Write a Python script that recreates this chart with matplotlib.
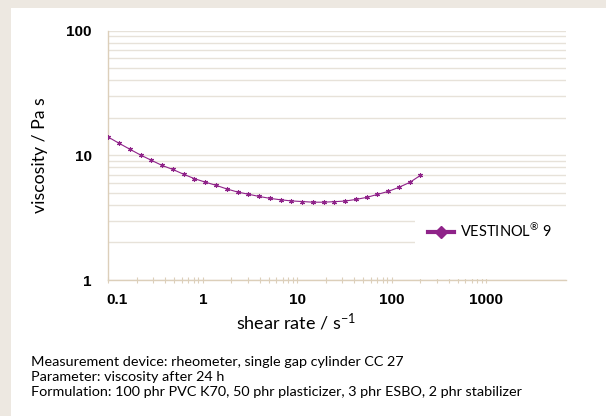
import matplotlib
matplotlib.use('Agg')
import matplotlib.pyplot as plt
from matplotlib.lines import Line2D
from matplotlib.patches import Rectangle
from matplotlib.transforms import offset_copy
from matplotlib.ticker import FixedLocator, NullFormatter, FixedFormatter

# shear rate (1/s) and viscosity (Pa s)
shear_rate = [0.1, 0.13, 0.169, 0.22, 0.286, 0.371, 0.483, 0.628, 0.816, 1.06,
              1.38, 1.79, 2.33, 3.03, 3.94, 5.12, 6.65, 8.65, 11.2, 14.6,
              19.0, 24.7, 32.1, 41.7, 54.2, 70.5, 91.7, 119.0, 155.0, 201.0]
viscosity = [14.0, 12.5, 11.2, 10.05, 9.12, 8.3, 7.7, 7.05, 6.5, 6.1,
             5.75, 5.38, 5.08, 4.88, 4.68, 4.52, 4.40, 4.31, 4.26, 4.21,
             4.21, 4.25, 4.30, 4.43, 4.60, 4.86, 5.14, 5.54, 6.07, 6.91]
series_name = 'VESTINOL$^{\u00ae}$ 9'

x_ticks = [0.1, 1, 10, 100, 1000]
x_tick_labels = ['0.1', '1', '10', '100', '1000']
y_ticks = [1, 10, 100]
y_tick_labels = ['1', '10', '100']

notes = ['Measurement device: rheometer, single gap cylinder CC 27',
         'Parameter: viscosity after 24 h',
         'Formulation: 100 phr PVC K70, 50 phr plasticizer, 3 phr ESBO, 2 phr stabilizer']

PURPLE = '#8f2389'
TAN    = '#dccfba'
GRID   = '#e7e2d9'
BG     = '#ede8e1'

plt.rcParams['mathtext.fontset'] = 'custom'
plt.rcParams['mathtext.rm'] = 'Lato'
plt.rcParams['mathtext.it'] = 'Lato'

fig = plt.figure(figsize=(6.06, 4.16), dpi=100, facecolor=BG)
# white panel
fig.patches.append(Rectangle((11/606, 0), 1, 1 - 8/416, transform=fig.transFigure,
                             facecolor='white', edgecolor='none', zorder=-10))

ax = fig.add_axes([108.3/606, 1 - 280/416, 457.4/606, 249.3/416])
ax.set_facecolor('none')
ax.set_xscale('log')
ax.set_yscale('log')
ax.set_xlim(0.1, 10**3.84)
ax.set_ylim(1, 100)

# horizontal grid lines at every decade subdivision
grid_levels = [m * 10**e for e in (0, 1) for m in range(1, 10)] + [100]
for g in grid_levels:
    ax.axhline(g, color=GRID, lw=1.0, zorder=1)

# white legend box hides the lower grid lines
ax.add_patch(Rectangle((0.6705, 0.004), 0.33, 0.285, transform=ax.transAxes,
                       facecolor='white', edgecolor='none', zorder=2))

ax.plot(shear_rate, viscosity, color=PURPLE, lw=0.8, marker=(6, 2, 0),
        ms=3.5, mew=0.8, zorder=3)

for s in ('top', 'right'):
    ax.spines[s].set_visible(False)
for s in ('left', 'bottom'):
    ax.spines[s].set_color(TAN)
    ax.spines[s].set_linewidth(1.0)

# first x label is drawn separately, left-aligned on its tick as in the original
shown_labels = [''] + x_tick_labels[1:]
ax.xaxis.set_major_locator(FixedLocator(x_ticks))
ax.xaxis.set_major_formatter(FixedFormatter(shown_labels))
ax.xaxis.set_minor_locator(FixedLocator([m * 10**e for e in (-1, 0, 1, 2) for m in range(2, 10)]))
ax.xaxis.set_minor_formatter(NullFormatter())
ax.yaxis.set_major_locator(FixedLocator(y_ticks))
ax.yaxis.set_major_formatter(FixedFormatter(y_tick_labels))
ax.yaxis.set_minor_locator(FixedLocator([]))

ax.tick_params(axis='x', which='both', direction='inout', length=5, width=0.8,
               color=TAN, pad=7)
ax.tick_params(axis='y', which='both', length=0, pad=12)
tick_font = {'family': 'Liberation Sans', 'weight': 'bold', 'size': 11}
for lab in ax.get_xticklabels() + ax.get_yticklabels():
    lab.set_fontfamily(tick_font['family'])
    lab.set_fontweight(tick_font['weight'])
    lab.set_fontsize(tick_font['size'])
ax.text(x_ticks[0], 0, x_tick_labels[0], ha='left', va='top',
        transform=offset_copy(ax.get_xaxis_transform(), fig, x=-1.5, y=-9.5, units='points'),
        fontdict=tick_font, clip_on=False)

handle = Line2D([], [], color=PURPLE, lw=3, marker='D', ms=6)
leg = ax.legend([handle], [series_name], loc='center left',
                bbox_to_anchor=(0.67, 0.195), frameon=False, handlelength=1.8,
                handletextpad=0.4, prop={'family': 'Lato', 'size': 10.5})
leg.set_zorder(4)

fig.text(296/606, 1 - 322/416, 'shear rate / s$^{-1}$', ha='center', va='center',
         fontsize=13, family='Lato')
fig.text(40/606, 1 - 155/416, 'viscosity / Pa s', ha='center', va='center',
         rotation=90, fontsize=12.7, family='Lato')

for i, line in enumerate(notes):
    fig.text(31/606, 1 - (366 + 15 * i)/416, line, ha='left', va='baseline',
             fontsize=10.4, family='Lato')

fig.savefig('out.png', dpi=100, facecolor=BG)
